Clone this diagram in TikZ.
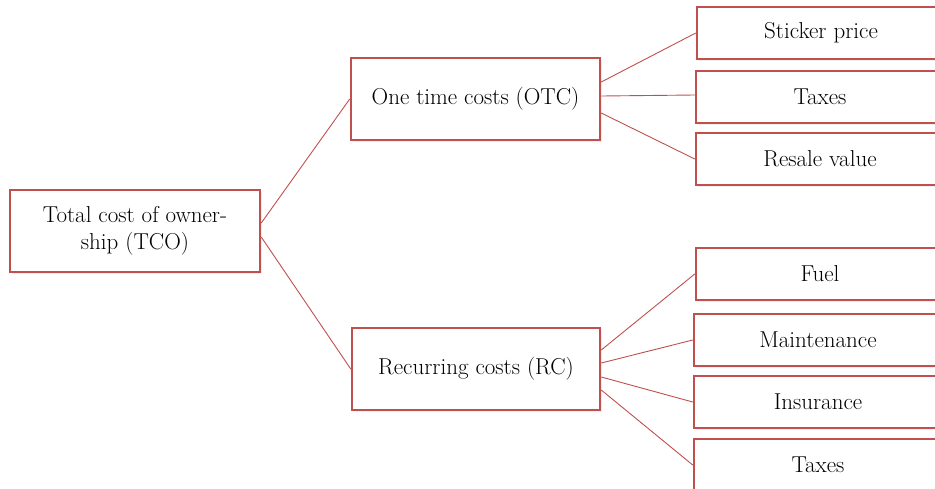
\documentclass[tikz,border=0pt]{standalone}
\usetikzlibrary{calc,shadows}
\definecolor{accent}{RGB}{192,80,77}
\begin{document}
\begin{tikzpicture}[x=1pt,y=-1pt,
  box/.style={draw=accent, line width=2.5pt, fill=white, inner sep=0pt,
    text=black, font=\fontsize{23}{27}\selectfont, align=center,
    drop shadow={opacity=0.12, shadow xshift=1.5pt, shadow yshift=-1.5pt}},
  bigbox/.style={box, minimum height=82pt},
  leaf/.style={box, minimum width=248pt, minimum height=52pt},
  link/.style={draw=accent, line width=0.9pt}]
\useasboundingbox (0,0) rectangle (935,488);
\clip (0,0) rectangle (935,488);
\node[bigbox, minimum width=250pt] (tco) at (135,231) {Total cost of owner-\\ship (TCO)};
\node[bigbox, minimum width=249pt] (otc) at (475.5,99) {One time costs (OTC)};
\node[bigbox, minimum width=248pt] (rc) at (476,369) {Recurring costs (RC)};
\node[leaf] (sticker) at (821,33) {Sticker price};
\node[leaf] (taxesa) at (820,97) {Taxes};
\node[leaf] (resale) at (820,159) {Resale value};
\node[leaf] (fuel) at (820,274) {Fuel};
\node[leaf] (maint) at (818,340) {Maintenance};
\node[leaf] (insur) at (818,402) {Insurance};
\node[leaf] (taxesb) at (818,465) {Taxes};
\draw[link] ($(tco.east)+(0,-8)$) -- (otc.west);
\draw[link] ($(tco.east)+(0,6)$) -- (rc.west);
\draw[link] ($(otc.east)+(0,-17)$) -- (sticker.west);
\draw[link] ($(otc.east)+(0,-3)$) -- ($(taxesa.west)+(0,-2)$);
\draw[link] ($(otc.east)+(0,14)$) -- (resale.west);
\draw[link] ($(rc.east)+(0,-19)$) -- (fuel.west);
\draw[link] ($(rc.east)+(0,-6)$) -- (maint.west);
\draw[link] ($(rc.east)+(0,8)$) -- (insur.west);
\draw[link] ($(rc.east)+(0,21)$) -- (taxesb.west);
\end{tikzpicture}
\end{document}
